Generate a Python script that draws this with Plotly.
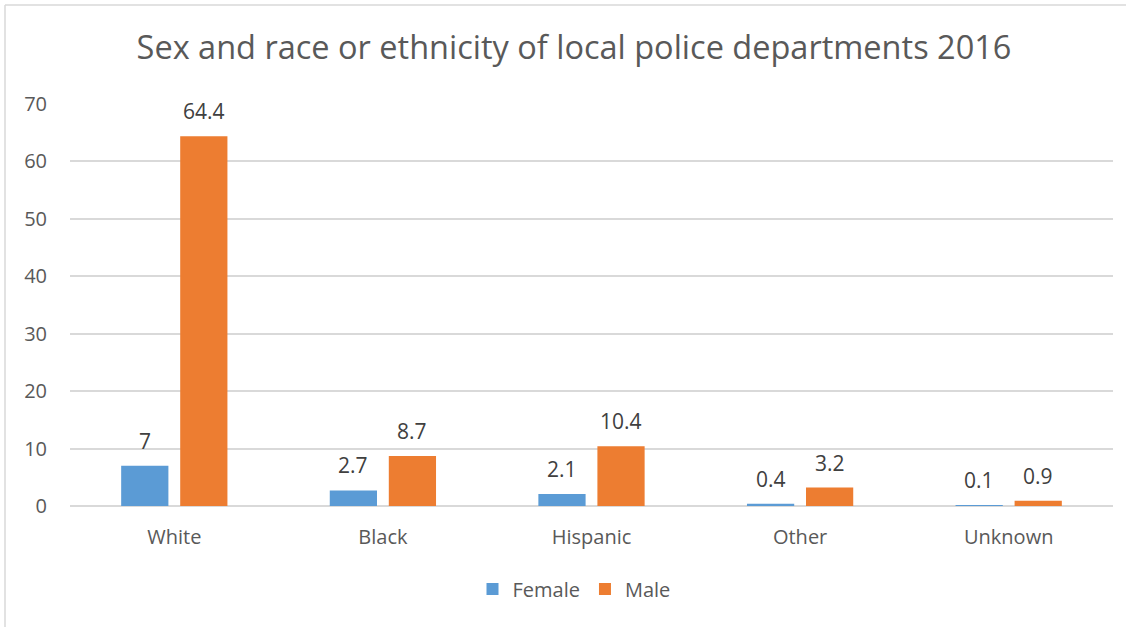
import plotly.graph_objects as go

categories = ["White", "Black", "Hispanic", "Other", "Unknown"]
female = [7, 2.7, 2.1, 0.4, 0.1]
male = [64.4, 8.7, 10.4, 3.2, 0.9]
y_ticks = [0, 10, 20, 30, 40, 50, 60, 70]

W, H = 1135, 627
ML, MR, MT, MB = 70, 22, 104, 121
PW = W - ML - MR
PH = H - MT - MB
BARGAP = 0.434
GROUPGAP = 0.2

FONT = "Open Sans"
C_F = "#5B9BD5"
C_M = "#ED7D31"

fig = go.Figure()
fig.add_trace(go.Bar(name="Female", x=categories, y=female, marker=dict(color=C_F, line=dict(width=0))))
fig.add_trace(go.Bar(name="Male", x=categories, y=male, marker=dict(color=C_M, line=dict(width=0))))

slot = (1 - BARGAP) * (PW / len(categories)) / 2
for vals, sign in ((female, -1), (male, 1)):
    for c, v in zip(categories, vals):
        fig.add_annotation(x=c, y=v, text=str(v), showarrow=False, xshift=sign * slot / 2,
                           yshift=25, yanchor="middle",
                           font=dict(family=FONT, size=21, color="#404040"))

# chart area border
x0 = (5 - ML) / PW
x1 = (1126 - ML) / PW
yt = (H - MB - 5) / PH
yb = (H - MB - H - 2) / PH
fig.add_shape(type="line", xref="paper", yref="paper", x0=x0, x1=x1, y0=yt, y1=yt,
              line=dict(color="#D9D9D9", width=1.5))
fig.add_shape(type="line", xref="paper", yref="paper", x0=x0, x1=x0, y0=yt, y1=yb,
              line=dict(color="#D9D9D9", width=1.5))

fig.update_layout(
    width=W, height=H,
    margin=dict(l=ML, r=MR, t=MT, b=MB),
    paper_bgcolor="white", plot_bgcolor="white",
    barmode="group", bargap=BARGAP, bargroupgap=GROUPGAP,
    title=dict(text="Sex and race or ethnicity of local police departments 2016",
               x=574 / W, xref="container", xanchor="center",
               y=1 - 48 / H, yref="container", yanchor="middle",
               font=dict(family=FONT, size=32.5, color="#595959")),
    font=dict(family=FONT, color="#595959"),
    legend=dict(orientation="h", x=(574 - ML) / PW, xanchor="center",
                y=(H - MB - 589) / PH, yanchor="middle",
                font=dict(family=FONT, size=20, color="#595959"),
                itemwidth=30, traceorder="normal"),
    xaxis=dict(showgrid=False, showline=False, ticks="", tickfont=dict(family=FONT, size=20, color="#595959"),
               ticklabelstandoff=17),
    yaxis=dict(range=[0, 70], tickvals=y_ticks, showgrid=True, gridcolor="#D9D9D9", gridwidth=1.5,
               zeroline=True, zerolinecolor="#D9D9D9", zerolinewidth=1.5, showline=False, ticks="",
               tickfont=dict(family=FONT, size=20, color="#595959"), ticklabelstandoff=22),
)

fig.write_html("out.html")
